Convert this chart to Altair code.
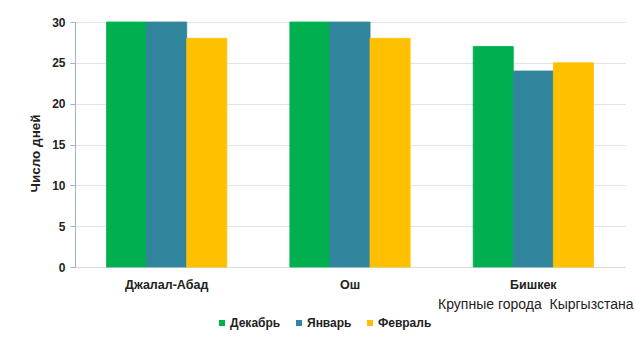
import altair as alt
import pandas as pd

# Winter days count by city and month
cities = ["Джалал-Абад", "Ош", "Бишкек"]
months = ["Декабрь", "Январь", "Февраль"]
dec = [30, 30, 27]
jan = [30, 30, 24]
feb = [28, 28, 25]
colors = ["#00B050", "#31859C", "#FFC000"]
y_ticks = [0, 5, 10, 15, 20, 25, 30]

rows = []
for i, c in enumerate(cities):
    for m, vals in zip(months, [dec, jan, feb]):
        rows.append({"Город": c, "Месяц": m, "Дней": vals[i]})
df = pd.DataFrame(rows)

FONT = "Liberation Sans, Arial, sans-serif"

chart = (
    alt.Chart(df)
    .mark_bar(strokeWidth=0.8)
    .encode(
        x=alt.X(
            "Город:N",
            sort=cities,
            scale=alt.Scale(paddingInner=0.344, paddingOuter=0.172),
            axis=alt.Axis(
                title="Крупные города\u00a0 Кыргызстана",
                labelAngle=0,
                labelPadding=11,
                labelFontSize=12.5,
                ticks=False,
                domainColor="#D9D9D9",
                titleX=558,
                titleY=37,
                titleAlign="right",
                titleAnchor="end",
                titleBaseline="middle",
                titleFontSize=14,
                titleFontWeight="normal",
            ),
        ),
        xOffset=alt.XOffset("Месяц:N", sort=months),
        y=alt.Y(
            "Дней:Q",
            scale=alt.Scale(domain=[0, 30], nice=False),
            axis=alt.Axis(
                title="Число дней",
                values=y_ticks,
                gridColor="#E3E3E3",
                domainColor="#9FB3CC",
                tickColor="#9FB3CC",
                tickSize=5,
                labelPadding=5,
                labelFontSize=12,
                titleFontSize=13.5,
                titlePadding=9,
                titleY=131,
            ),
        ),
        color=alt.Color(
            "Месяц:N",
            sort=months,
            scale=alt.Scale(domain=months, range=colors),
            legend=alt.Legend(
                title=None,
                orient="none",
                direction="horizontal",
                legendX=141,
                legendY=295,
                symbolType="square",
                symbolSize=36,
                symbolStrokeWidth=0,
                columnPadding=12,
                labelOffset=2,
            ),
        ),
        stroke=alt.Stroke("Месяц:N", sort=months,
                          scale=alt.Scale(domain=months, range=colors),
                          legend=None),
    )
    .properties(width=550, height=245)
    .configure(
        autosize=alt.AutoSizeParams(type="none"),
        padding={"left": 75, "top": 22, "right": 11, "bottom": 71},
        font=FONT,
    )
    .configure_view(stroke=None)
    .configure_axis(
        labelFont=FONT,
        titleFont=FONT,
        labelFontWeight="bold",
        titleFontWeight="bold",
        labelColor="#222222",
        titleColor="#222222",
    )
    .configure_legend(
        labelFont=FONT,
        labelFontSize=12,
        labelFontWeight="bold",
        labelColor="#222222",
    )
)

chart.save("out.html", embed_options={"renderer": "svg", "actions": False})
